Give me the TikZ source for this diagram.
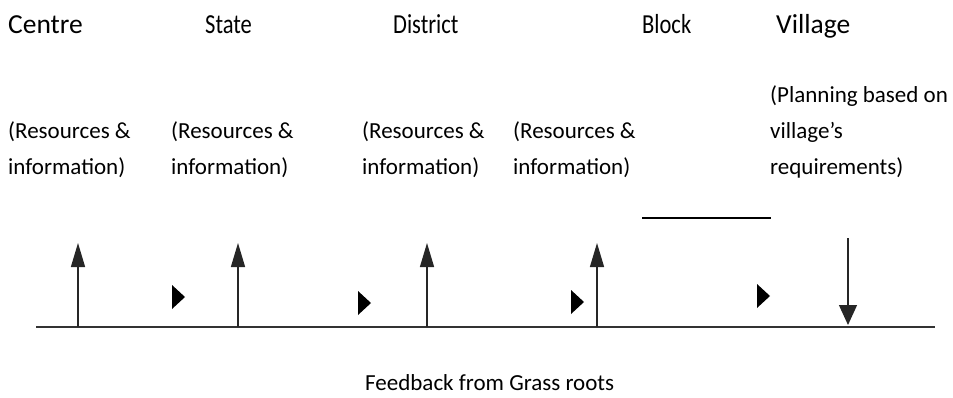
\documentclass[tikz,border=0pt]{standalone}
\usepackage{fontspec}
\setmainfont{Carlito}
\usetikzlibrary{arrows.meta}

\begin{document}
\begin{tikzpicture}[
    x=1pt, y=-1pt, % one unit per pixel, y downwards
    level/.style={anchor=base west, inner sep=0pt, font=\fontsize{27.5}{33}\selectfont},
    narrow/.style={level, xscale=0.82, transform shape},
    note/.style={anchor=base west, inner sep=0pt, align=left, font=\fontsize{23}{36}\selectfont},
    flow/.style={line width=1.3pt, black!85, -{Triangle[length=24pt, width=14pt]}},
    pointer/.style={fill=black}
]
\useasboundingbox (0,0) rectangle (953,397);

% Levels
\node[level] (centre) at (8,33) {Centre};
\node[narrow] (state) at (205,33) {State};
\node[narrow] (district) at (393,33) {District};
\node[narrow] (block) at (642,33) {Block};
\node[level] (village) at (776,33) {Village};

% What each level passes on (base = last line)
\node[note] (rcentre) at (8,174) {(Resources \&\\information)};
\node[note] (rstate) at (171,174) {(Resources \&\\information)};
\node[note] (rdistrict) at (362,174) {(Resources \&\\information)};
\node[note] (rblock) at (513,174) {(Resources \&\\information)};
\node[note] (planning) at (770,174) {(Planning based on\\village’s\\requirements)};

% Ground line
\coordinate (gl) at (36,327);
\coordinate (gr) at (935,327);
\draw[line width=1.5pt, black!80] (gl) -- (gr);

% Upward arrows
\coordinate (a1) at (78,327);  \coordinate (b1) at (78,243);
\coordinate (a2) at (238,327); \coordinate (b2) at (238,243);
\coordinate (a3) at (427,327); \coordinate (b3) at (427,243);
\coordinate (a4) at (597,327); \coordinate (b4) at (597,243);
\draw[flow] (a1) -- (b1);
\draw[flow] (a2) -- (b2);
\draw[flow] (a3) -- (b3);
\draw[flow] (a4) -- (b4);

% Downward arrow at the village
\coordinate (a5) at (848,238); \coordinate (b5) at (848,325);
\draw[flow, -{Triangle[length=20pt, width=18pt]}] (a5) -- (b5);

% Line above the block
\coordinate (hl) at (642,218);
\coordinate (hr) at (771,218);
\draw[line width=1.3pt] (hl) -- (hr);

% Small right-pointing marks
\coordinate (m1) at (172,285);
\coordinate (m2) at (358,291);
\coordinate (m3) at (571,290);
\coordinate (m4) at (757,284);
\fill[pointer] (m1) -- ++(13,12) -- ++(-13,12) -- cycle;
\fill[pointer] (m2) -- ++(13,12) -- ++(-13,12) -- cycle;
\fill[pointer] (m3) -- ++(13,12) -- ++(-13,12) -- cycle;
\fill[pointer] (m4) -- ++(13,12) -- ++(-13,12) -- cycle;

% Caption under the line
\node[note] (feedback) at (365,390) {Feedback from Grass roots};

\end{tikzpicture}
\end{document}
